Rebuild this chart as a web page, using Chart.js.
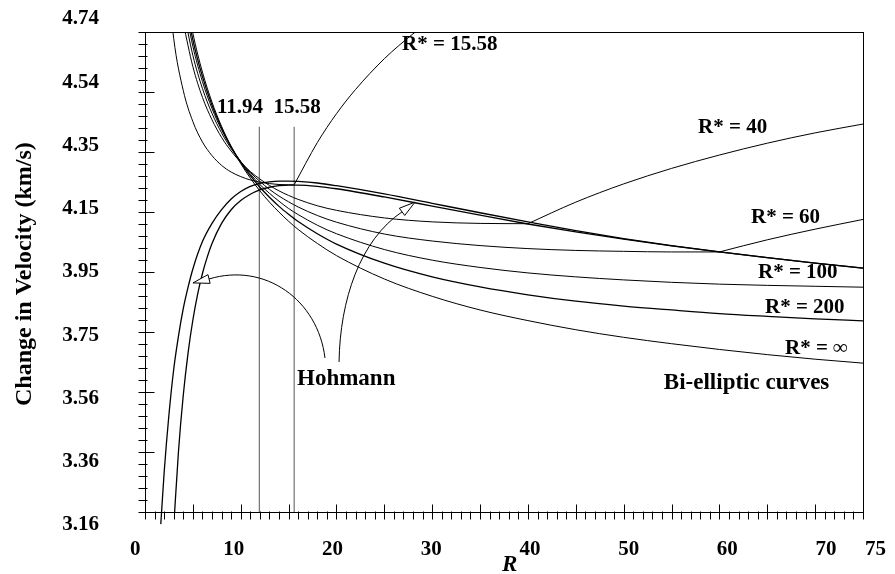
<!DOCTYPE html>
<html>
<head>
<meta charset="utf-8">
<script src="https://cdn.jsdelivr.net/npm/chart.js@4.4.1/dist/chart.umd.min.js"></script>
<style>
  body { margin: 0; background: #fff; }
  canvas { display: block; }
</style>
</head>
<body>
<canvas id="myChart" width="895" height="574"></canvas>
<script>
// axis tick labels
var yTickLabels = ['3.16', '3.36', '3.56', '3.75', '3.95', '4.15', '4.35', '4.54', '4.74'];
var xTickLabels = [0, 10, 20, 30, 40, 50, 60, 70, 75];

// Hohmann curve (inner one)
var rHohmann = [3, 3.5, 4, 4.5, 5, 5.5, 6, 6.5, 7, 8, 9, 10, 11, 12, 13, 14, 15, 16, 18, 20, 25, 30, 35, 40, 45, 50, 55, 60, 65, 70, 75];
var vHohmann = [3.111, 3.361, 3.545, 3.684, 3.792, 3.877, 3.945, 3.999, 4.044, 4.110, 4.155, 4.185, 4.206, 4.220, 4.229, 4.234, 4.236, 4.236, 4.232, 4.224, 4.197, 4.167, 4.137, 4.108, 4.082, 4.058, 4.036, 4.016, 3.997, 3.979, 3.963];

// second Hohmann curve (outer one)
var rHohmann2 = [1.65, 2, 2.5, 3, 3.5, 4, 4.5, 5, 6, 7, 8, 9, 10, 11, 12, 13, 14, 15, 16, 18, 20, 25, 30, 35, 40, 45, 50, 55, 60, 65, 70, 75, 76.6];
var vHohmann2 = [3.12, 3.29, 3.48, 3.63, 3.74, 3.83, 3.90, 3.96, 4.05, 4.11, 4.155, 4.19, 4.215, 4.232, 4.242, 4.247, 4.249, 4.249, 4.248, 4.243, 4.234, 4.207, 4.176, 4.145, 4.115, 4.086, 4.060, 4.037, 4.016, 3.997, 3.979, 3.963, 3.958];

// bi-elliptic curves
var rBi = [4, 5, 6, 7, 8, 9, 10, 11, 12, 13, 14, 15, 16, 18, 20, 25, 30, 35, 40, 45, 50, 55, 60, 65, 70, 75];
var vInf = [4.908, 4.736, 4.608, 4.509, 4.429, 4.363, 4.307, 4.259, 4.217, 4.180, 4.147, 4.117, 4.090, 4.044, 4.004, 3.927, 3.870, 3.825, 3.790, 3.760, 3.735, 3.714, 3.695, 3.678, 3.663, 3.650];
var v200 = [4.881, 4.714, 4.593, 4.499, 4.424, 4.362, 4.311, 4.267, 4.229, 4.196, 4.166, 4.140, 4.116, 4.076, 4.042, 3.979, 3.934, 3.901, 3.875, 3.854, 3.838, 3.825, 3.813, 3.804, 3.796, 3.789];
var v100 = [4.853, 4.693, 4.577, 4.488, 4.418, 4.361, 4.313, 4.273, 4.238, 4.209, 4.183, 4.159, 4.139, 4.104, 4.076, 4.024, 3.989, 3.965, 3.947, 3.934, 3.924, 3.916, 3.910, 3.906, 3.903, 3.900];

var r60 = [4, 5, 6, 7, 8, 9, 10, 11, 12, 13, 14, 15, 16, 18, 20, 25, 30, 35, 40, 45, 50, 55, 60];
var v60 = [4.815, 4.663, 4.554, 4.472, 4.408, 4.356, 4.314, 4.278, 4.248, 4.222, 4.200, 4.181, 4.164, 4.136, 4.114, 4.075, 4.052, 4.037, 4.027, 4.021, 4.018, 4.016, 4.016];
var r60up = [60, 65, 70, 75];
var v60up = [4.016, 4.056, 4.091, 4.123];

var r40 = [4, 5, 6, 7, 8, 9, 10, 11, 12, 13, 14, 15, 16, 18, 20, 25, 30, 35, 40];
var v40 = [4.768, 4.626, 4.525, 4.451, 4.393, 4.348, 4.311, 4.281, 4.256, 4.235, 4.217, 4.202, 4.189, 4.168, 4.153, 4.128, 4.115, 4.110, 4.109];
var r40up = [40, 45, 50, 55, 60, 65, 70, 75];
var v40up = [4.109, 4.180, 4.240, 4.291, 4.335, 4.374, 4.408, 4.437];

var r15 = [2, 3, 4, 5, 6, 7, 8, 9, 10, 11, 12, 13, 14, 15, 15.58];
var v15 = [5.041, 4.718, 4.547, 4.445, 4.378, 4.333, 4.301, 4.279, 4.264, 4.253, 4.246, 4.241, 4.238, 4.237, 4.237];
var r15up = [15.58, 18, 20, 22, 25, 28, 30];
var v15up = [4.237, 4.376, 4.471, 4.551, 4.652, 4.734, 4.781];

// vertical marker lines
var markers = [11.94, 15.58];
var markerTop = 4.428;

var serif = '"Liberation Serif", "Times New Roman", serif';

function pts(r, v) {
    return r.map(function (x, i) { return { x: x, y: v[i] }; });
}

function curve(r, v, w, clip) {
    var ds = { data: pts(r, v), borderColor: '#000', borderWidth: w || 1 };
    if (clip) ds.clip = clip;
    return ds;
}

var datasets = [
    curve(rHohmann, vHohmann, 1.3),
    curve(rHohmann2, vHohmann2, 1.3, { left: 0, top: 0, right: 16, bottom: 14 }),
    curve(rBi, vInf), curve(rBi, v200, 1.3), curve(rBi, v100),
    curve(r60, v60), curve(r60up, v60up),
    curve(r40, v40), curve(r40up, v40up),
    curve(r15, v15), curve(r15up, v15up)
];
markers.forEach(function (m) {
    datasets.push({
        data: [{ x: m, y: 3.16 }, { x: m, y: markerTop }],
        borderColor: '#555', borderWidth: 1,
        cubicInterpolationMode: 'default', tension: 0
    });
});

// text notes, placed in data coordinates
var notes = [
    { t: '11.94', x: 9.92, y: 4.490, size: 21, align: 'center' },
    { t: '15.58', x: 15.88, y: 4.490, size: 21, align: 'center' },
    { t: 'R* = 15.58', x: 26.85, y: 4.700, size: 21, align: 'left' },
    { t: 'R* = 40', x: 57.77, y: 4.427, size: 21, align: 'left' },
    { t: 'R* = 60', x: 63.3, y: 4.128, size: 21, align: 'left' },
    { t: 'R* = 100', x: 64.03, y: 3.947, size: 21, align: 'left' },
    { t: 'R* = 200', x: 64.76, y: 3.832, size: 21, align: 'left' },
    { t: 'R* = \u221E', x: 66.85, y: 3.697, size: 21, align: 'left' },
    { t: 'Bi-elliptic curves', x: 54.2, y: 3.585, size: 23, align: 'left' },
    { t: 'Hohmann', x: 15.88, y: 3.598, size: 23, align: 'left' }
];

// arrows from the Hohmann label: start, control 1, control 2, end, tip
var arrows = [
    [[18.80, 3.667], [18.07, 3.858], [12.54, 3.983], [6.69, 3.927], [5.01, 3.914]],
    [[20.27, 3.654], [20.37, 3.858], [22.46, 4.055], [26.85, 4.148], [28.20, 4.180]]
];

var framePlugin = {
    id: 'frame',
    afterDatasetsDraw: function (chart) {
        var c = chart.ctx, a = chart.chartArea;
        var xs = chart.scales.x, ys = chart.scales.y;
        var L = Math.round(a.left) + 0.5, B = Math.round(a.bottom) + 0.5;
        c.save();
        c.strokeStyle = '#000';
        c.lineWidth = 1;
        c.strokeRect(L, Math.round(a.top) + 0.5, Math.round(a.right) - Math.round(a.left), Math.round(a.bottom) - Math.round(a.top));

        // y ticks, 5 minor steps per label
        var n = (yTickLabels.length - 1) * 5;
        for (var i = 0; i <= n; i++) {
            var py = Math.round(ys.getPixelForValue(ys.min + i * (ys.max - ys.min) / n)) + 0.5;
            c.beginPath();
            c.moveTo(L - 7, py);
            c.lineTo(L + (i % 5 === 0 ? 9 : 2), py);
            c.stroke();
        }
        // x ticks every unit, long every 5
        for (var k = 0; k <= 75; k++) {
            var px = Math.round(xs.getPixelForValue(k)) + 0.5;
            c.beginPath();
            c.moveTo(px, B + 7);
            c.lineTo(px, B - (k % 5 === 0 ? 8 : 1));
            c.stroke();
        }

        // tick labels
        c.fillStyle = '#000';
        c.font = 'bold 21px ' + serif;
        c.textAlign = 'right';
        c.textBaseline = 'middle';
        var yc = ys.getPixelForValue((ys.min + ys.max) / 2);
        yTickLabels.forEach(function (lab, i) {
            var py = ys.getPixelForValue(ys.min + i * (ys.max - ys.min) / (yTickLabels.length - 1));
            c.fillText(lab, a.left - 46, yc + (py - yc) * 1.054);
        });
        c.textAlign = 'center';
        var p40 = xs.getPixelForValue(40);
        xTickLabels.forEach(function (v) {
            var px = xs.getPixelForValue(v);
            c.fillText(String(v), p40 + 2 + (px - p40) * 1.031, a.bottom + 38);
        });

        // axis titles
        c.font = 'bold italic 23px ' + serif;
        c.fillText('R', xs.getPixelForValue(38.1), a.bottom + 53);
        c.save();
        c.translate(25, ys.getPixelForValue(3.943));
        c.rotate(-Math.PI / 2);
        c.font = 'bold 24px ' + serif;
        c.fillText('Change in Velocity (km/s)', 0, 0);
        c.restore();

        // notes
        notes.forEach(function (n) {
            c.font = 'bold ' + n.size + 'px ' + serif;
            c.textAlign = n.align;
            c.fillText(n.t, xs.getPixelForValue(n.x), ys.getPixelForValue(n.y));
        });

        // arrows
        arrows.forEach(function (ar) {
            var p = ar.map(function (q) { return [xs.getPixelForValue(q[0]), ys.getPixelForValue(q[1])]; });
            c.beginPath();
            c.moveTo(p[0][0], p[0][1]);
            c.bezierCurveTo(p[1][0], p[1][1], p[2][0], p[2][1], p[3][0], p[3][1]);
            c.stroke();
            var dx = p[4][0] - p[3][0], dy = p[4][1] - p[3][1];
            var len = Math.sqrt(dx * dx + dy * dy);
            var nx = -dy / len * 4.5, ny = dx / len * 4.5;
            c.beginPath();
            c.moveTo(p[4][0], p[4][1]);
            c.lineTo(p[3][0] + nx, p[3][1] + ny);
            c.lineTo(p[3][0] - nx, p[3][1] - ny);
            c.closePath();
            c.fillStyle = '#fff';
            c.fill();
            c.stroke();
            c.fillStyle = '#000';
        });
        c.restore();
    }
};

var ctx = document.getElementById('myChart').getContext('2d');
var myChart = new Chart(ctx, {
    type: 'line',
    data: { datasets: datasets },
    options: {
        responsive: false,
        animation: false,
        devicePixelRatio: 1,
        layout: { padding: { left: 145, right: 32, top: 32, bottom: 62 } },
        plugins: { legend: { display: false }, tooltip: { enabled: false } },
        elements: {
            point: { radius: 0 },
            line: { cubicInterpolationMode: 'monotone', fill: false }
        },
        scales: {
            x: { type: 'linear', min: 0, max: 75, display: false },
            y: { type: 'linear', min: 3.16, max: 4.74, display: false }
        }
    },
    plugins: [framePlugin]
});
</script>
</body>
</html>
